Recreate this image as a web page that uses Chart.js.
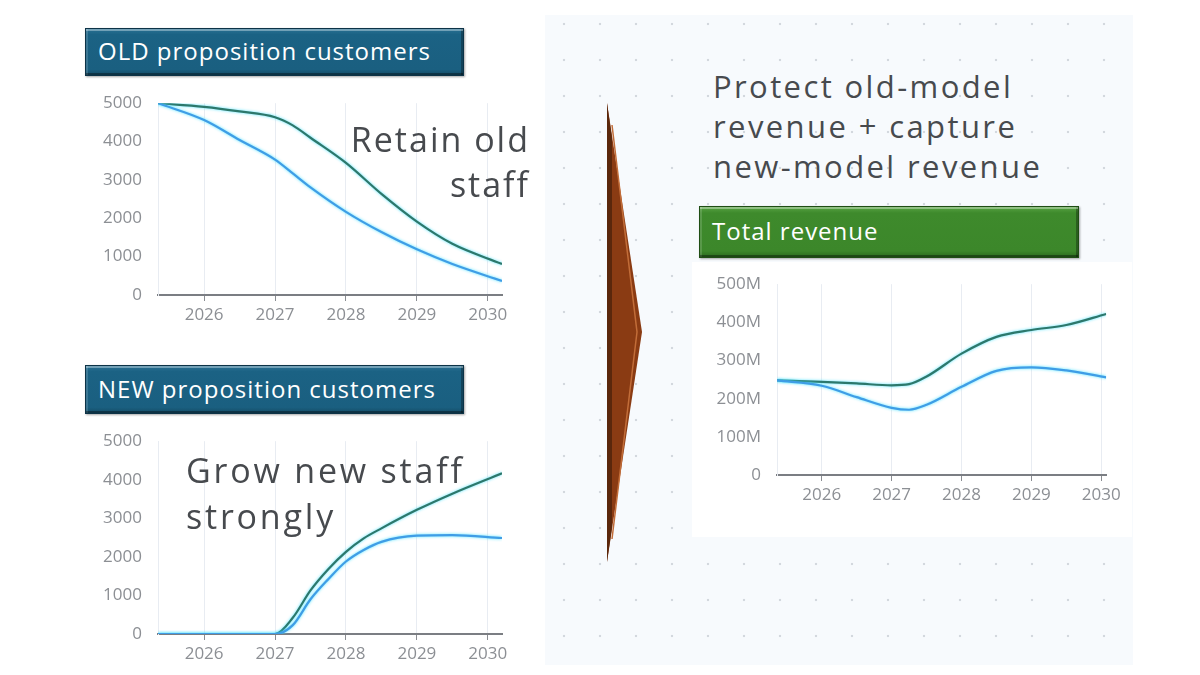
<!DOCTYPE html>
<html>
<head>
<meta charset="utf-8">
<script src="https://cdn.jsdelivr.net/npm/chart.js@4.4.1/dist/chart.umd.min.js"></script>
<style>
  body { margin: 0; width: 1200px; height: 675px; background: #fff; position: relative; overflow: hidden; font-family: "Open Sans", sans-serif; }
  .panel { position: absolute; }
  .dots {
    left: 545px; top: 15px; width: 588px; height: 650px;
    background-color: #f7fafd;
    background-image: radial-gradient(circle, #d3d8de 1.2px, transparent 1.6px);
    background-size: 36px 36px;
    background-position: 1px -9px;
  }
  .white { background: #fff; }
  .title-box {
    position: absolute; color: #fff; font-size: 24px; letter-spacing: 1px; line-height: 1;
    display: flex; align-items: center; box-sizing: border-box; padding-left: 12px; padding-bottom: 2px;
    border: 1px solid #0d3347;
    box-shadow: inset 0 2px 0 rgba(255,255,255,0.35), inset 0 -2px 0 rgba(0,0,0,0.35), inset 2px 0 0 rgba(255,255,255,0.15), inset -2px 0 0 rgba(0,0,0,0.3), 1px 1px 2px rgba(0,0,0,0.35);
  }
  .blue { background: linear-gradient(#2a7193, #1b6284 12%, #1a5f80 88%, #144c66); }
  .green { background: linear-gradient(#58a343, #3e8a2c 12%, #3c872a 88%, #2b6b1e); border-color: #1f4d14; }
  .note { position: absolute; color: #474a4e; font-family: "Open Sans", sans-serif; white-space: nowrap; }
  canvas { position: absolute; }
</style>
</head>
<body>
<div class="panel dots"></div>
<div class="panel white" style="left:75px;top:15px;width:470px;height:650px;"></div>
<div class="panel white" style="left:692px;top:262px;width:440px;height:275px;"></div>

<div class="title-box blue" style="left:85px;top:28px;width:379px;height:48px;">OLD proposition customers</div>
<div class="title-box blue" style="left:85px;top:365px;width:379px;height:49px;">NEW proposition customers</div>
<div class="title-box green" style="left:699px;top:206px;width:380px;height:52px;">Total revenue</div>

<canvas id="oldChart" style="left:80px;top:85px;width:440px;height:245px;"></canvas>
<canvas id="newChart" style="left:80px;top:423px;width:440px;height:246px;"></canvas>
<canvas id="revChart" style="left:700px;top:266px;width:425px;height:244px;"></canvas>

<div class="note" style="left:250px;top:117px;width:280px;text-align:right;font-size:34px;letter-spacing:2px;line-height:45px;">Retain old<br>staff</div>
<div class="note" style="left:186px;top:447px;font-size:34px;letter-spacing:2.8px;line-height:46px;">Grow new staff<br>strongly</div>
<div class="note" style="left:713px;top:66px;font-size:31px;letter-spacing:2.4px;line-height:40px;">Protect old-model<br>revenue + capture<br>new-model revenue</div>

<svg width="1200" height="675" style="position:absolute;left:0;top:0;pointer-events:none;">
  <polygon points="607,103 642,332 607,562" fill="#8a3b13"/>
  <polygon points="607,103 612,138 612,527 607,562" fill="#5a270c"/>
  <polyline points="612,125 637,332 612,539" fill="none" stroke="#c26d39" stroke-width="1.5"/>
</svg>

<script>
// x positions are fractional years
const oldYears = [2025.35, 2026, 2026.5, 2027, 2027.25, 2027.5, 2028, 2028.5, 2029, 2029.5, 2030.2];
const oldRetain = [5000, 4906, 4787, 4634, 4422, 4099, 3444, 2636, 1913, 1335, 808];
const oldBase = [5000, 4560, 4040, 3529, 3170, 2806, 2168, 1641, 1190, 808, 366];

const newYears = [2025.35, 2026, 2026.5, 2027, 2027.25, 2027.5, 2027.75, 2028, 2028.25, 2028.5, 2029, 2029.5, 2030.2];
const newGrow = [0, 0, 0, 0, 420, 1130, 1680, 2130, 2480, 2740, 3220, 3640, 4169];
const newBase = [0, 0, 0, 0, 230, 900, 1420, 1880, 2180, 2390, 2550, 2565, 2490];

const revYears = [2025.36, 2026, 2026.5, 2027, 2027.25, 2027.5, 2028, 2028.5, 2029, 2029.5, 2030.07];
const revStrategy = [248, 244, 240, 235, 238, 258, 318, 362, 380, 393, 422]; // millions
const revBase = [248, 234, 204, 176, 171, 184, 231, 273, 282, 274, 256];

const yearTicks = [2026, 2027, 2028, 2029, 2030];

const greenLine = "#2d786c";
const blueLine = "#3f9de6";

// light cyan halo round each line, like the original
const glowPlugin = {
	id: "glow",
	beforeDatasetDraw(chart) {
		chart.ctx.save();
		chart.ctx.shadowColor = "rgba(60, 225, 255, 0.9)";
		chart.ctx.shadowBlur = 3;
	},
	afterDatasetDraw(chart) {
		chart.ctx.restore();
	},
};

const toPoints = (xs, ys) => xs.map((x, i) => ({ x: x, y: ys[i] }));

const makeChart = (id, xs, seriesA, seriesB, xMin, xMax, yMax, yStep, yLabel, yWidth) => {
	new Chart(document.getElementById(id), {
		type: "line",
		data: {
			datasets: [
				{ data: toPoints(xs, seriesB), borderColor: blueLine, borderWidth: 2.2 },
				{ data: toPoints(xs, seriesA), borderColor: greenLine, borderWidth: 2.2 },
			],
		},
		options: {
			responsive: false,
			animation: false,
			layout: { padding: { top: 14, right: 18, left: 0, bottom: 0 } },
			elements: { point: { radius: 0 }, line: { cubicInterpolationMode: "monotone" } },
			plugins: { legend: { display: false }, tooltip: { enabled: false } },
			scales: {
				x: {
					type: "linear",
					min: xMin,
					max: xMax,
					afterBuildTicks: (scale) => {
						scale.ticks = yearTicks.map((v) => ({ value: v }));
					},
					afterFit: (scale) => {
						scale.height = 35;
					},
					ticks: {
						callback: (v) => String(v),
						color: "#8c8f94",
						font: { family: "Open Sans", size: 17 },
						padding: 4,
						maxRotation: 0,
					},
					grid: { color: "#e8ecf2", tickColor: "#8a8d92", tickLength: 6, lineWidth: 1 },
					border: { color: "#7b7e83", width: 2 },
				},
				y: {
					min: 0,
					max: yMax,
					ticks: {
						stepSize: yStep,
						callback: yLabel,
						color: "#8c8f94",
						font: { family: "Open Sans", size: 17 },
						padding: 8,
					},
					afterFit: (scale) => {
						scale.width = yWidth;
					},
					grid: { display: false },
					border: { color: "#e8ecf2", width: 1 },
				},
			},
		},
		plugins: [glowPlugin],
	});
};

const countLabel = (v) => String(v);
const moneyLabel = (v) => (v === 0 ? "0" : v + "M");

makeChart("oldChart", oldYears, oldRetain, oldBase, 2025.35, 2030.2, 5000, 1000, countLabel, 78);
makeChart("newChart", newYears, newGrow, newBase, 2025.35, 2030.2, 5000, 1000, countLabel, 78);
makeChart("revChart", revYears, revStrategy, revBase, 2025.36, 2030.07, 500, 100, moneyLabel, 77);
</script>
</body>
</html>
